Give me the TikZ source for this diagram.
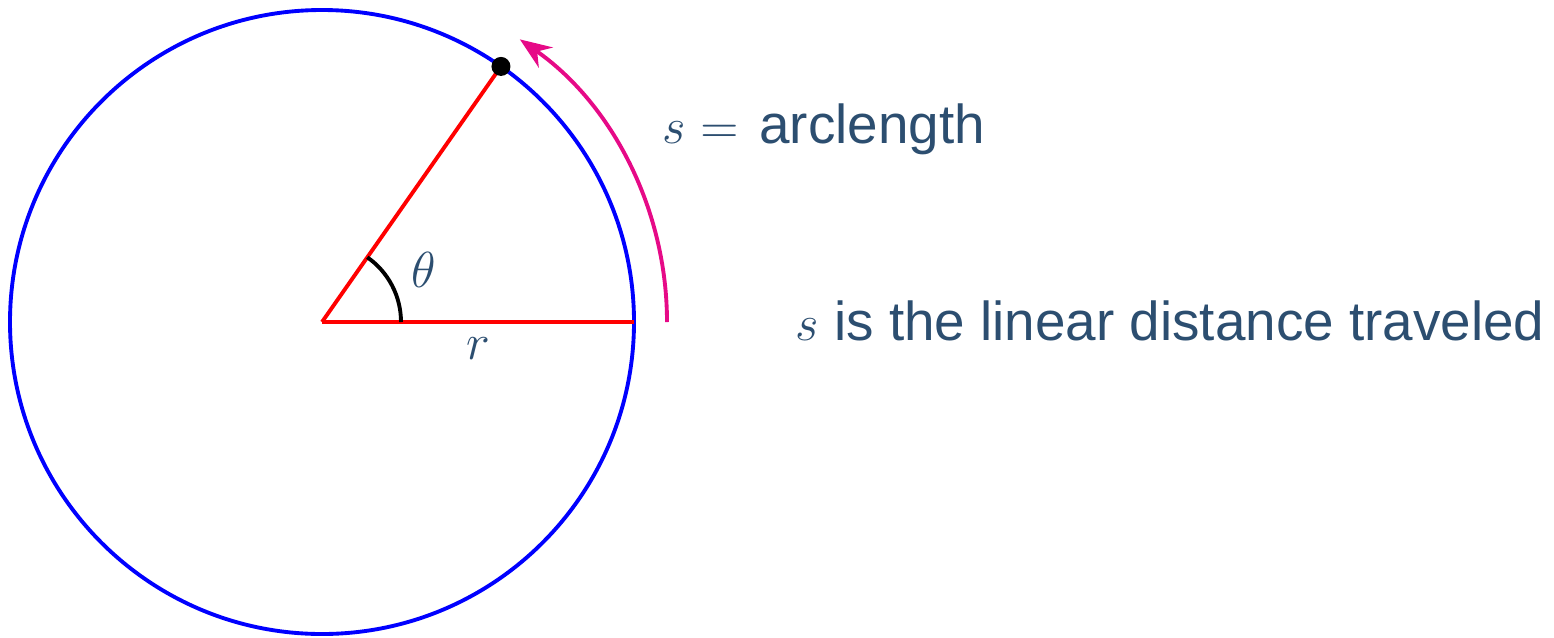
\documentclass[tikz,border=0pt]{standalone}
\usepackage{fontspec}
\setmainfont{Liberation Sans}
\usetikzlibrary{arrows.meta,calc}
\definecolor{txtblue}{RGB}{44,78,112}
\definecolor{arcpink}{RGB}{230,10,135}
\tikzset{
  circ/.style={draw=blue, line width=1.1pt},
  radius line/.style={draw=red, line width=1.1pt},
  anglearc/.style={draw=black, line width=1.1pt},
  arcarrow/.style={draw=arcpink, line width=1.1pt, -{Stealth[length=9pt,width=7pt,inset=3pt]}},
  lbl/.style={text=txtblue, font=\fontsize{15.6pt}{18pt}\selectfont, inner sep=0pt},
}
\begin{document}
\begin{tikzpicture}
\useasboundingbox (0,0) rectangle (15.54,6.37);
\coordinate (O) at (3.22,3.15);
\coordinate (A) at ($(O)+(3.12,0)$);
\coordinate (P) at ($(O)+(55:3.12)$);
\coordinate (B) at ($(O)+(3.45,0)$);
\coordinate (C) at ($(O)+(0.79,0)$);
\draw[circ] (O) circle[radius=3.12];
\draw[radius line] (O) -- (A);
\draw[radius line] (O) -- (P);
\draw[anglearc] (C) arc[start angle=0, end angle=55, radius=0.79];
\draw[arcarrow] (B) arc[start angle=0, end angle=55, radius=3.45];
\node[circle, fill=black, inner sep=0pt, minimum size=0.19cm] (dot) at (P) {};
\node[lbl] (theta) at (4.24,3.67) {$\theta$};
\node[lbl] (r) at (4.78,2.88) {$r$};
\node[lbl, anchor=base west] (s1) at (6.62,4.94) {$s={}$\kern0.12em arclength};
\node[lbl, anchor=base west] (s2) at (7.95,2.97) {$s$ is the linear distance traveled};
\end{tikzpicture}
\end{document}
